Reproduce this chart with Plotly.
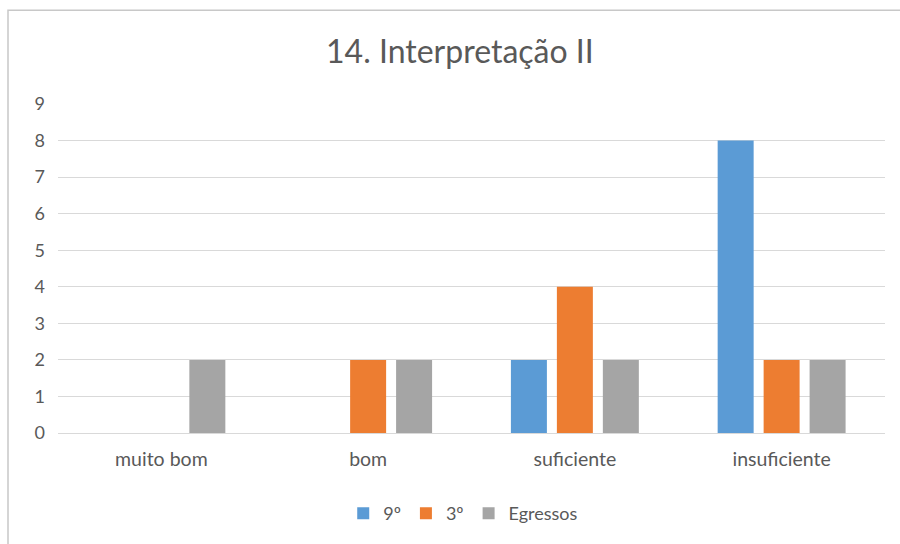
import plotly.graph_objects as go

categories = ["muito bom", "bom", "suficiente", "insuficiente"]
serie_9 = [0, 0, 2, 8]
serie_3 = [0, 2, 4, 2]
serie_egressos = [2, 2, 2, 2]
y_ticks = list(range(0, 10))

series = [
    ("9º", serie_9, "#5B9BD5"),
    ("3º", serie_3, "#ED7D31"),
    ("Egressos", serie_egressos, "#A5A5A5"),
]

fig = go.Figure()
for name, vals, color in series:
    fig.add_trace(go.Bar(name=name, x=categories, y=vals, marker_color=color,
                         marker_line_width=0))

font_family = "Lato, Liberation Sans, sans-serif"
text_color = "#595959"

fig.update_layout(
    width=900, height=544,
    margin=dict(l=58, r=15, t=104, b=107),
    paper_bgcolor="white", plot_bgcolor="white",
    barmode="group", bargap=0.333, bargroupgap=0.217,
    font=dict(family=font_family, color=text_color, size=19),
    title=dict(text="14. Interpretação II", x=0.511, xanchor="center",
               y=1 - 52 / 544, yref="container", yanchor="middle",
               font=dict(size=32, color=text_color, family=font_family)),
    legend=dict(orientation="h", x=0.49, xanchor="center", y=-0.245, yanchor="middle",
                font=dict(size=18, color=text_color), traceorder="normal",
                itemwidth=30, itemsizing="constant", tracegroupgap=0),
    xaxis=dict(showgrid=False, showline=True, linecolor="#d9d9d9", linewidth=1,
               ticks="", tickfont=dict(size=19.5, color=text_color), ticklabelstandoff=9),
    yaxis=dict(range=[0, 9], tickvals=y_ticks, showgrid=True, gridcolor="#d9d9d9",
               gridwidth=1, zeroline=False, showline=False, ticks="",
               tickfont=dict(size=18, color=text_color), ticklabelstandoff=12),
    shapes=[dict(type="rect", xref="paper", yref="paper",
                 x0=(8 - 58) / 827, x1=(910 - 58) / 827,
                 y0=(437 - 560) / 333, y1=(437 - 9) / 333,
                 line=dict(color="#c8c8c8", width=1.5), fillcolor="rgba(0,0,0,0)",
                 layer="below")],
)

fig.write_html("out.html")
